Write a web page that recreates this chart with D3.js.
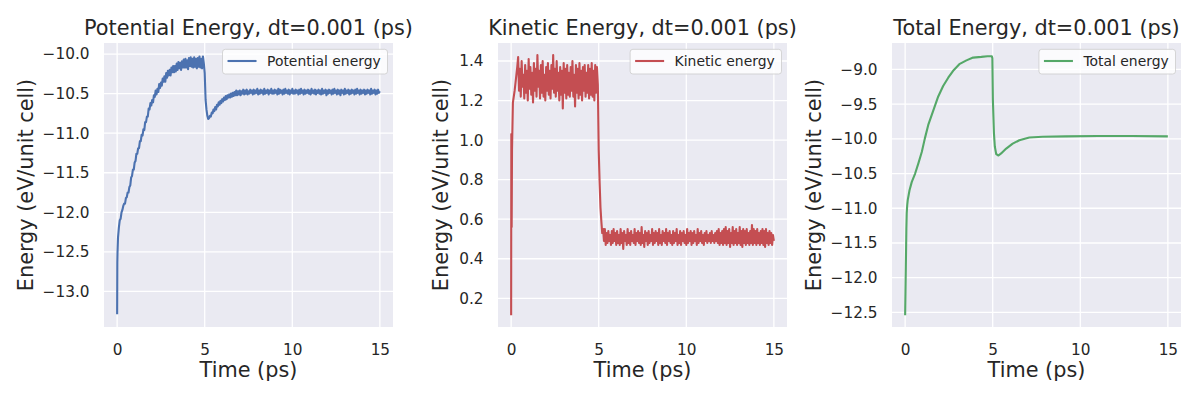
<!DOCTYPE html>
<html>
<head>
<meta charset="utf-8">
<script src="https://cdn.jsdelivr.net/npm/d3@7"></script>
<style>
  body { margin: 0; background: #fff; }
  text { font-family: "DejaVu Sans", sans-serif; fill: #262626; }
</style>
</head>
<body>
<svg id="chart" width="1200" height="400"></svg>
<script>
// time samples (ps) shared by the potential and kinetic traces
var time = [
  0, 0.01, 0.02, 0.03, 0.05, 0.1, 0.15, 0.2, 0.25, 0.3, 0.35,
  0.4, 0.45, 0.5, 0.55, 0.6, 0.65, 0.7, 0.75, 0.8, 0.85,
  0.9, 0.95, 1.0, 1.05, 1.1, 1.15, 1.2, 1.25, 1.3, 1.35,
  1.4, 1.45, 1.5, 1.55, 1.6, 1.65, 1.7, 1.75, 1.8, 1.85,
  1.9, 1.95, 2.0, 2.05, 2.1, 2.15, 2.2, 2.25, 2.3, 2.35,
  2.4, 2.45, 2.5, 2.55, 2.6, 2.65, 2.7, 2.75, 2.8, 2.85,
  2.9, 2.95, 3.0, 3.05, 3.1, 3.15, 3.2, 3.25, 3.3, 3.35,
  3.4, 3.45, 3.5, 3.55, 3.6, 3.65, 3.7, 3.75, 3.8, 3.85,
  3.9, 3.95, 4.0, 4.05, 4.1, 4.15, 4.2, 4.25, 4.3, 4.35,
  4.4, 4.45, 4.5, 4.55, 4.6, 4.65, 4.7, 4.75, 4.8, 4.85,
  4.9,
  4.95, 5.0, 5.05, 5.1, 5.15, 5.2, 5.25,
  5.3, 5.35, 5.4, 5.45, 5.5, 5.55, 5.6, 5.65, 5.7, 5.75,
  5.8, 5.85, 5.9, 5.95, 6.0, 6.05, 6.1, 6.15, 6.2, 6.25,
  6.3, 6.35, 6.4, 6.45, 6.5, 6.55, 6.6, 6.65, 6.7, 6.75,
  6.8, 6.85, 6.9, 6.95, 7.0, 7.05, 7.1, 7.15, 7.2, 7.25,
  7.3, 7.35, 7.4, 7.45, 7.5, 7.55, 7.6, 7.65, 7.7, 7.75,
  7.8, 7.85, 7.9, 7.95, 8.0, 8.05, 8.1, 8.15, 8.2, 8.25,
  8.3, 8.35, 8.4, 8.45, 8.5, 8.55, 8.6, 8.65, 8.7, 8.75,
  8.8, 8.85, 8.9, 8.95, 9.0, 9.05, 9.1, 9.15, 9.2, 9.25,
  9.3, 9.35, 9.4, 9.45, 9.5, 9.55, 9.6, 9.65, 9.7, 9.75,
  9.8, 9.85, 9.9, 9.95, 10.0, 10.05, 10.1, 10.15, 10.2, 10.25,
  10.3, 10.35, 10.4, 10.45, 10.5, 10.55, 10.6, 10.65, 10.7, 10.75,
  10.8, 10.85, 10.9, 10.95, 11.0, 11.05, 11.1, 11.15, 11.2, 11.25,
  11.3, 11.35, 11.4, 11.45, 11.5, 11.55, 11.6, 11.65, 11.7, 11.75,
  11.8, 11.85, 11.9, 11.95, 12.0, 12.05, 12.1, 12.15, 12.2, 12.25,
  12.3, 12.35, 12.4, 12.45, 12.5, 12.55, 12.6, 12.65, 12.7, 12.75,
  12.8, 12.85, 12.9, 12.95, 13.0, 13.05, 13.1, 13.15, 13.2, 13.25,
  13.3, 13.35, 13.4, 13.45, 13.5, 13.55, 13.6, 13.65, 13.7, 13.75,
  13.8, 13.85, 13.9, 13.95, 14.0, 14.05, 14.1, 14.15, 14.2, 14.25,
  14.3, 14.35, 14.4, 14.45, 14.5, 14.55, 14.6, 14.65, 14.7, 14.75,
  14.8, 14.85, 14.9, 14.95, 15.0
];

var potential = [
  -13.29, -12.64, -12.52, -12.45, -12.32, -12.19, -12.10, -12.08, -12.00, -11.97, -11.92,
  -11.89, -11.89, -11.82, -11.81, -11.75, -11.75, -11.68, -11.66, -11.56, -11.54,
  -11.46, -11.46, -11.37, -11.35, -11.26, -11.26, -11.19, -11.19, -11.10, -11.10,
  -11.02, -11.03, -10.95, -10.96, -10.86, -10.86, -10.79, -10.79, -10.69, -10.70,
  -10.62, -10.65, -10.58, -10.61, -10.52, -10.54, -10.46, -10.51, -10.44, -10.48,
  -10.38, -10.43, -10.36, -10.40, -10.31, -10.35, -10.28, -10.35, -10.24, -10.30,
  -10.21, -10.27, -10.20, -10.27, -10.17, -10.23, -10.15, -10.23, -10.15, -10.22,
  -10.12, -10.20, -10.10, -10.18, -10.11, -10.20, -10.09, -10.17, -10.07, -10.17,
  -10.06, -10.17, -10.08, -10.19, -10.05, -10.15, -10.04, -10.16, -10.06, -10.17,
  -10.04, -10.16, -10.06, -10.18, -10.05, -10.16, -10.03, -10.17, -10.06, -10.18,
  -10.03,
  -10.12, -10.24, -10.58, -10.70, -10.78, -10.82, -10.81,
  -10.78, -10.79, -10.74, -10.75, -10.70, -10.72, -10.67, -10.70, -10.64, -10.66,
  -10.61, -10.64, -10.59, -10.62, -10.57, -10.60, -10.55, -10.58, -10.53, -10.57,
  -10.52, -10.55, -10.51, -10.55, -10.50, -10.54, -10.49, -10.53, -10.48, -10.52,
  -10.46, -10.52, -10.47, -10.51, -10.46, -10.52, -10.47, -10.50, -10.45, -10.51,
  -10.46, -10.50, -10.45, -10.51, -10.47, -10.50, -10.45, -10.49, -10.46, -10.51,
  -10.45, -10.50, -10.46, -10.49, -10.44, -10.51, -10.46, -10.50, -10.45, -10.49,
  -10.46, -10.51, -10.44, -10.50, -10.46, -10.49, -10.45, -10.51, -10.46, -10.49,
  -10.44, -10.50, -10.46, -10.50, -10.45, -10.49, -10.46, -10.51, -10.44, -10.50,
  -10.45, -10.49, -10.46, -10.51, -10.45, -10.50, -10.44, -10.49, -10.46, -10.50,
  -10.45, -10.51, -10.46, -10.49, -10.44, -10.50, -10.46, -10.50, -10.45, -10.49,
  -10.46, -10.51, -10.45, -10.50, -10.44, -10.49, -10.46, -10.51, -10.45, -10.50,
  -10.46, -10.49, -10.45, -10.50, -10.46, -10.51, -10.44, -10.49, -10.46, -10.50,
  -10.45, -10.51, -10.46, -10.49, -10.45, -10.50, -10.46, -10.51, -10.44, -10.50,
  -10.46, -10.49, -10.45, -10.52, -10.46, -10.50, -10.45, -10.49, -10.46, -10.51,
  -10.45, -10.50, -10.44, -10.49, -10.46, -10.51, -10.45, -10.50, -10.46, -10.52,
  -10.45, -10.49, -10.46, -10.51, -10.44, -10.50, -10.46, -10.49, -10.45, -10.51,
  -10.46, -10.50, -10.45, -10.49, -10.46, -10.51, -10.45, -10.50, -10.44, -10.49,
  -10.46, -10.51, -10.45, -10.50, -10.46, -10.49, -10.45, -10.51, -10.46, -10.50,
  -10.45, -10.49, -10.46, -10.51, -10.44, -10.50, -10.46, -10.49, -10.45, -10.51,
  -10.46, -10.50, -10.45, -10.49, -10.47
];

var kinetic = [
  0.115, 1.03, 0.97, 0.56, 0.95, 1.19, 1.22, 1.25, 1.29, 1.33, 1.37,
  1.42, 1.25, 1.36, 1.22, 1.40, 1.27, 1.33, 1.21, 1.38, 1.24,
  1.35, 1.20, 1.41, 1.26, 1.37, 1.23, 1.34, 1.19, 1.39, 1.25,
  1.36, 1.22, 1.43, 1.27, 1.35, 1.21, 1.38, 1.24, 1.40, 1.22,
  1.33, 1.20, 1.37, 1.25, 1.39, 1.23, 1.35, 1.21, 1.38, 1.26,
  1.43, 1.24, 1.36, 1.22, 1.40, 1.25, 1.34, 1.20, 1.37, 1.23,
  1.35, 1.16, 1.39, 1.24, 1.36, 1.21, 1.38, 1.23, 1.34, 1.22,
  1.37, 1.25, 1.40, 1.22, 1.33, 1.17, 1.38, 1.24, 1.36, 1.21,
  1.39, 1.23, 1.35, 1.20, 1.37, 1.25, 1.38, 1.22, 1.34, 1.24,
  1.38, 1.21, 1.36, 1.23, 1.39, 1.22, 1.35, 1.20, 1.38, 1.24,
  1.37,
  1.28, 0.95, 0.79, 0.66, 0.59, 0.53, 0.55,
  0.49, 0.55, 0.47, 0.53, 0.48, 0.54, 0.49, 0.52, 0.47, 0.54,
  0.48, 0.55, 0.49, 0.53, 0.47, 0.54, 0.48, 0.52, 0.47, 0.55,
  0.48, 0.53, 0.45, 0.54, 0.49, 0.52, 0.47, 0.55, 0.48, 0.53,
  0.47, 0.54, 0.49, 0.52, 0.48, 0.55, 0.47, 0.53, 0.49, 0.54,
  0.48, 0.53, 0.47, 0.56, 0.48, 0.52, 0.46, 0.54, 0.49, 0.53,
  0.47, 0.54, 0.48, 0.52, 0.49, 0.55, 0.47, 0.53, 0.48, 0.54,
  0.49, 0.53, 0.47, 0.55, 0.48, 0.52, 0.47, 0.54, 0.49, 0.53,
  0.48, 0.55, 0.47, 0.53, 0.49, 0.54, 0.48, 0.52, 0.47, 0.54,
  0.48, 0.53, 0.49, 0.55, 0.47, 0.52, 0.48, 0.54, 0.47, 0.53,
  0.49, 0.54, 0.48, 0.52, 0.47, 0.55, 0.48, 0.53, 0.49, 0.54,
  0.47, 0.53, 0.48, 0.54, 0.49, 0.52, 0.47, 0.55, 0.48, 0.53,
  0.49, 0.54, 0.48, 0.52, 0.47, 0.53, 0.49, 0.54, 0.48, 0.52,
  0.49, 0.53, 0.48, 0.54, 0.49, 0.52, 0.48, 0.53, 0.49, 0.54,
  0.48, 0.55, 0.47, 0.53, 0.48, 0.54, 0.47, 0.55, 0.48, 0.56,
  0.47, 0.54, 0.48, 0.55, 0.46, 0.53, 0.48, 0.56, 0.47, 0.54,
  0.48, 0.55, 0.47, 0.53, 0.48, 0.56, 0.47, 0.54, 0.46, 0.55,
  0.48, 0.54, 0.47, 0.55, 0.48, 0.53, 0.47, 0.54, 0.48, 0.57,
  0.47, 0.55, 0.48, 0.54, 0.47, 0.55, 0.48, 0.53, 0.47, 0.54,
  0.48, 0.55, 0.47, 0.54, 0.46, 0.55, 0.48, 0.53, 0.47, 0.54,
  0.48, 0.53, 0.47, 0.52, 0.49
];

// total energy is smooth, so it is read at fewer points
var totalTime = [
  0, 0.02, 0.04, 0.07, 0.09, 0.12, 0.15, 0.25, 0.38, 0.57,
  0.76, 0.95, 1.13, 1.32, 1.61, 1.89, 2.17, 2.46, 2.74, 3.12,
  3.5, 3.88, 4.35, 4.7, 4.95, 4.98, 5.01, 5.07, 5.12, 5.2,
  5.33, 5.48, 5.77, 6.14, 6.52, 7.09, 7.85, 9.17, 11.0, 12.95,
  15.0
];
var total = [
  -12.54, -12.2, -11.84, -11.3, -11.07, -10.95, -10.88, -10.74, -10.62, -10.50,
  -10.35, -10.19, -9.99, -9.80, -9.59, -9.39, -9.24, -9.12, -9.02, -8.92,
  -8.87, -8.83, -8.82, -8.81, -8.81, -8.84, -9.44, -9.92, -10.11, -10.22,
  -10.24, -10.21, -10.14, -10.07, -10.02, -9.98, -9.97, -9.965, -9.96, -9.96,
  -9.965
];

var timeTicks = [0, 5, 10, 15];
var potentialTicks = [-13.0, -12.5, -12.0, -11.5, -11.0, -10.5, -10.0];
var kineticTicks = [0.2, 0.4, 0.6, 0.8, 1.0, 1.2, 1.4];
var totalTicks = [-12.5, -12.0, -11.5, -11.0, -10.5, -10.0, -9.5, -9.0];

var svg = d3.select("#chart");

function zip(xs, ys) {
  return xs.map(function(t, i) { return [t, ys[i]]; });
}

function drawPanel(p) {
  var g = svg.append("g");
  var x = d3.scaleLinear().domain([-0.75, 15.75]).range([p.left, p.right]);
  var y = d3.scaleLinear().domain(p.yDomain).range([p.bottom, p.top]);

  g.append("rect")
      .attr("x", p.left).attr("y", p.top)
      .attr("width", p.right - p.left).attr("height", p.bottom - p.top)
      .attr("fill", "#EAEAF2");

  // white grid
  g.selectAll("line.vgrid").data(timeTicks).enter().append("line")
      .attr("x1", x).attr("x2", x)
      .attr("y1", p.top).attr("y2", p.bottom)
      .attr("stroke", "#fff").attr("stroke-width", 1.3);
  g.selectAll("line.hgrid").data(p.yTicks).enter().append("line")
      .attr("y1", y).attr("y2", y)
      .attr("x1", p.left).attr("x2", p.right)
      .attr("stroke", "#fff").attr("stroke-width", 1.3);

  // axes, no ticks or spines (darkgrid look)
  var xAxis = g.append("g")
      .attr("transform", "translate(0," + p.bottom + ")")
      .call(d3.axisBottom(x).tickValues(timeTicks).tickSize(0).tickPadding(17)
            .tickFormat(d3.format("d")));
  var yAxis = g.append("g")
      .attr("transform", "translate(" + p.left + ",0)")
      .call(d3.axisLeft(y).tickValues(p.yTicks).tickSize(0).tickPadding(14.5)
            .tickFormat(d3.format(".1f")));
  [xAxis, yAxis].forEach(function(a) {
    a.select(".domain").remove();
    a.selectAll("text")
        .attr("font-family", "DejaVu Sans, sans-serif")
        .attr("font-size", 15.3)
        .attr("fill", "#262626");
  });

  var line = d3.line()
      .x(function(d) { return x(d[0]); })
      .y(function(d) { return y(d[1]); });
  g.append("path")
      .datum(zip(p.t, p.values))
      .attr("d", line)
      .attr("fill", "none")
      .attr("stroke", p.color)
      .attr("stroke-width", 2.1)
      .attr("stroke-linejoin", "round");

  // title and labels
  g.append("text")
      .attr("x", (p.left + p.right) / 2).attr("y", 34.5)
      .attr("text-anchor", "middle")
      .attr("font-size", 20.8)
      .text(p.title);
  g.append("text")
      .attr("x", (p.left + p.right) / 2).attr("y", 377)
      .attr("text-anchor", "middle")
      .attr("font-size", 20.8)
      .text("Time (ps)");
  g.append("text")
      .attr("transform", "translate(" + p.ylabelX + "," + ((p.top + p.bottom) / 2) + ") rotate(-90)")
      .attr("text-anchor", "middle")
      .attr("font-size", 20.8)
      .text("Energy (eV/unit cell)");

  // legend, upper right
  var lg = g.append("g");
  var box = lg.append("rect");
  var label = lg.append("text")
      .attr("font-size", 13.9)
      .attr("text-anchor", "end")
      .attr("x", p.right - 12.3)
      .attr("y", 66)
      .text(p.legend);
  var tw = label.node().getComputedTextLength();
  var textStart = p.right - 12.3 - tw;
  lg.append("line")
      .attr("x1", textStart - 39.5).attr("x2", textStart - 10.5)
      .attr("y1", 61).attr("y2", 61)
      .attr("stroke", p.color).attr("stroke-width", 2.1);
  box.attr("x", textStart - 44.5).attr("y", 49.3)
      .attr("width", tw + 44.5 + 6.8).attr("height", 24.7)
      .attr("rx", 2.8)
      .attr("fill", "#fff").attr("fill-opacity", 0.8)
      .attr("stroke", "#cccccc").attr("stroke-opacity", 0.8).attr("stroke-width", 1);
}

drawPanel({
  left: 104, right: 393, top: 43, bottom: 327,
  yDomain: [-13.45, -9.86], yTicks: potentialTicks,
  t: time, values: potential, color: "#4C72B0",
  title: "Potential Energy, dt=0.001 (ps)", legend: "Potential energy",
  ylabelX: 32.5
});
drawPanel({
  left: 498, right: 787, top: 43, bottom: 327,
  yDomain: [0.055, 1.491], yTicks: kineticTicks,
  t: time, values: kinetic, color: "#C44E52",
  title: "Kinetic Energy, dt=0.001 (ps)", legend: "Kinetic energy",
  ylabelX: 448
});
drawPanel({
  left: 892, right: 1181, top: 43, bottom: 327,
  yDomain: [-12.71, -8.62], yTicks: totalTicks,
  t: totalTime, values: total, color: "#55A868",
  title: "Total Energy, dt=0.001 (ps)", legend: "Total energy",
  ylabelX: 821
});
</script>
</body>
</html>
